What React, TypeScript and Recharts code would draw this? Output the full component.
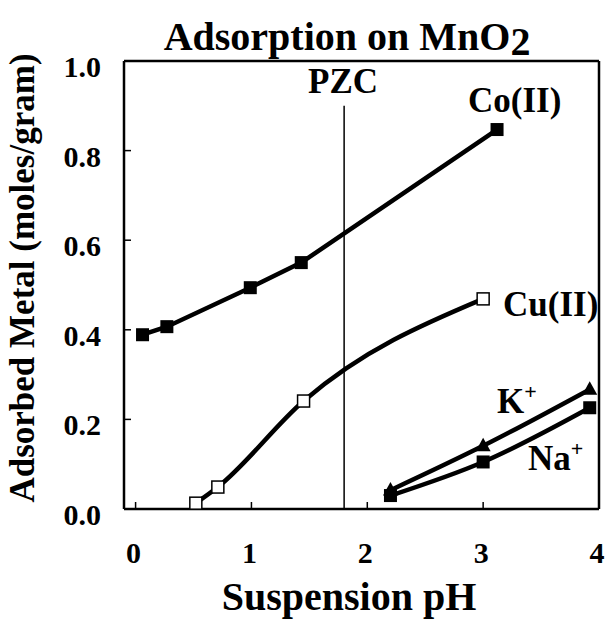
import React from "react";
import { LineChart, Line, XAxis, YAxis, ReferenceLine } from "recharts";

// adsorbed metal (moles/gram) against suspension pH
const coPH = [0.06, 0.27, 0.99, 1.43, 3.12];
const coAds = [0.389, 0.407, 0.494, 0.55, 0.847];
const cuPH = [0.52, 0.71, 1.45, 3.0];
const cuAds = [0.013, 0.049, 0.241, 0.469];
const kPH = [2.2, 3.0, 3.92];
const kAds = [0.042, 0.141, 0.267];
const naPH = [2.2, 3.0, 3.92];
const naAds = [0.03, 0.105, 0.226];

const pzcPH = 1.8;
const pzcTop = 0.9;
const xTicks = [0, 1, 2, 3, 4];
const yTicks = [0, 0.2, 0.4, 0.6, 0.8, 1.0];

const W = 613;
const H = 620;
const txt = { fontFamily: "Liberation Serif", fontWeight: 700 } as const;

const toPoints = (xs: number[], ys: number[]) =>
  xs.map((x, i) => ({ pH: x, ads: ys[i] }));

const coData = toPoints(coPH, coAds);
const cuData = toPoints(cuPH, cuAds);
const kData = toPoints(kPH, kAds);
const naData = toPoints(naPH, naAds);

const squareDot = (name: string, size: number, open: boolean) => (props: any) => {
  const { cx, cy, index } = props;
  if (cx == null || cy == null) return <g key={`${name}-${index}`} />;
  return (
    <rect
      key={`${name}-${index}`}
      x={cx - size / 2}
      y={cy - size / 2}
      width={size}
      height={size}
      fill={open ? "#fff" : "#000"}
      stroke="#000"
      strokeWidth={open ? 1.5 : 0}
    />
  );
};

const triangleDot = (name: string, size: number) => (props: any) => {
  const { cx, cy, index } = props;
  if (cx == null || cy == null) return <g key={`${name}-${index}`} />;
  const h = size * 0.9;
  const pts = `${cx},${cy - h * 0.6} ${cx - size / 2},${cy + h * 0.4} ${cx + size / 2},${cy + h * 0.4}`;
  return <polygon key={`${name}-${index}`} points={pts} fill="#000" />;
};

const XTick = (props: any) => {
  const { x, payload } = props;
  return (
    <text x={x - 2} y={563} textAnchor="middle" style={txt} fontSize={30} fill="#000">
      {payload.value}
    </text>
  );
};

const YTick = (props: any) => {
  const { y, payload } = props;
  return (
    <text x={101} y={y + 16} textAnchor="end" style={txt} fontSize={30} fill="#000">
      {Number(payload.value).toFixed(1)}
    </text>
  );
};

const lineProps = {
  dataKey: "ads",
  stroke: "#000",
  strokeWidth: 4.5,
  isAnimationActive: false,
  activeDot: false,
};

export default function App() {
  return (
    <div style={{ position: "absolute", left: 0, top: 0, width: W, height: H, background: "#fff" }}>
      <LineChart width={W} height={H} margin={{ top: 61, right: 14, left: 0, bottom: 0 }}>
        <XAxis
          type="number"
          dataKey="pH"
          domain={[-0.1, 4]}
          ticks={xTicks}
          allowDataOverflow
          height={111}
          tickSize={-7}
          axisLine={{ stroke: "#000", strokeWidth: 2.5 }}
          tickLine={{ stroke: "#000", strokeWidth: 1.5 }}
          tick={<XTick />}
        />
        <YAxis
          type="number"
          domain={[0, 1]}
          ticks={yTicks}
          width={124}
          tickSize={-7}
          axisLine={{ stroke: "#000", strokeWidth: 2.5 }}
          tickLine={{ stroke: "#000", strokeWidth: 1.5 }}
          tick={<YTick />}
        />
        {/* frame top and right */}
        <ReferenceLine y={1} stroke="#000" strokeWidth={2.5} />
        <ReferenceLine x={4} stroke="#000" strokeWidth={2.5} />
        {/* point of zero charge */}
        <ReferenceLine
          segment={[{ x: pzcPH, y: 0 }, { x: pzcPH, y: pzcTop }]}
          stroke="#000"
          strokeWidth={1.5}
        />

        <Line {...lineProps} type="linear" data={coData} name="Co(II)" dot={squareDot("co", 13, false)} />
        <Line {...lineProps} type="monotone" data={cuData} name="Cu(II)" dot={squareDot("cu", 12, true)} />
        <Line {...lineProps} type="monotone" data={kData} name="K+" dot={triangleDot("k", 15)} />
        <Line {...lineProps} type="monotone" data={naData} name="Na+" dot={squareDot("na", 13, false)} />

        <text x={347} y={50} textAnchor="middle" style={txt} fontSize={40} fill="#000">
          Adsorption on MnO<tspan dy={5}>2</tspan>
        </text>
        <text
          x={0}
          y={0}
          transform="translate(34 278) rotate(-90)"
          textAnchor="middle"
          style={txt}
          fontSize={35}
          fill="#000"
        >
          Adsorbed Metal (moles/gram)
        </text>
        <text x={349} y={610} textAnchor="middle" style={txt} fontSize={40} fill="#000">
          Suspension pH
        </text>

        <text x={343} y={93} textAnchor="middle" style={txt} fontSize={35} fill="#000">PZC</text>
        <text x={468} y={112} style={txt} fontSize={35} fill="#000">Co(II)</text>
        <text x={503} y={316} style={txt} fontSize={35} fill="#000">Cu(II)</text>
        <text x={497} y={413} style={txt} fontSize={35} fill="#000">
          K<tspan dy={-14} fontSize={22}>+</tspan>
        </text>
        <text x={528} y={470} style={txt} fontSize={35} fill="#000">
          Na<tspan dy={-14} fontSize={22}>+</tspan>
        </text>
      </LineChart>
    </div>
  );
}
